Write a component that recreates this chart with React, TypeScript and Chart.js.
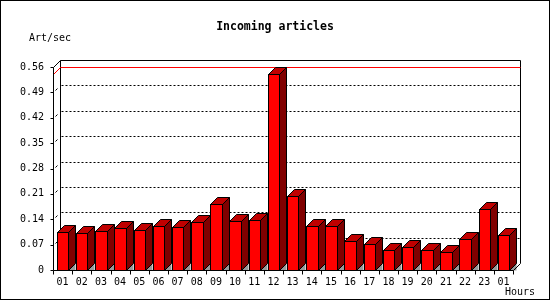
import { useEffect, useRef } from "react";
import { Chart, registerables } from "chart.js";

Chart.register(...registerables);

const chartTitle = "Incoming articles";
const yAxisTitle = "Art/sec";
const xAxisTitle = "Hours";
const hours = ["01", "02", "03", "04", "05", "06", "07", "08", "09", "10", "11", "12", "13", "14", "15", "16", "17", "18", "19", "20", "21", "22", "23", "01"];
const articlesPerSec = [0.104, 0.101, 0.107, 0.115, 0.109, 0.121, 0.118, 0.132, 0.182, 0.134, 0.137, 0.54, 0.203, 0.121, 0.121, 0.079, 0.071, 0.054, 0.063, 0.054, 0.049, 0.085, 0.167, 0.096];
const yTicks = [0, 0.07, 0.14, 0.21, 0.28, 0.35, 0.42, 0.49, 0.56];

const DEPTH = 7;
const FONT = "'DejaVu Sans Mono', 'Liberation Mono', monospace";
const FRONT = "#ff0000";
const TOP = "#c00000";
const SIDE = "#800000";
const SHADOW = "#999999";

const threeD = {
  id: "threeD",
  beforeDatasetsDraw(chart: any) {
    const { ctx, chartArea: a, scales } = chart;
    const ys = scales.y;
    const xs = scales.x;
    const d = DEPTH;
    const L = Math.round(a.left) + 0.5;
    const R = Math.round(a.right) + 0.5;
    const T = Math.round(a.top) + 0.5;
    const B = Math.round(a.bottom) + 0.5;
    ctx.save();
    ctx.lineWidth = 1;
    ctx.strokeStyle = "#000";
    // dotted grid on back plane + marks on left wall
    yTicks.slice(1, -1).forEach((v) => {
      const py = Math.round(ys.getPixelForValue(v)) + 0.5;
      ctx.setLineDash([2, 2]);
      ctx.beginPath();
      ctx.moveTo(L + d + 1, py - d);
      ctx.lineTo(R + d, py - d);
      ctx.stroke();
      ctx.setLineDash([]);
      ctx.beginPath();
      ctx.moveTo(L + 2, py - 2);
      ctx.lineTo(L + 4, py - 4);
      ctx.stroke();
    });
    // back plane frame
    ctx.beginPath();
    ctx.moveTo(L + d, B - d);
    ctx.lineTo(L + d, T - d);
    ctx.lineTo(R + d, T - d);
    ctx.lineTo(R + d, B - d);
    ctx.stroke();
    // max line (red)
    const maxV = Math.max(...articlesPerSec);
    const my = Math.round(ys.getPixelForValue(maxV)) + 0.5;
    ctx.strokeStyle = "#ff0000";
    ctx.beginPath();
    ctx.moveTo(L, my);
    ctx.lineTo(L + d, my - d);
    ctx.lineTo(R + d, my - d);
    ctx.stroke();
    ctx.restore();
  },
  afterDatasetsDraw(chart: any) {
    const { ctx, chartArea: a, scales } = chart;
    const xs = scales.x;
    const d = DEPTH;
    const meta = chart.getDatasetMeta(0);
    ctx.save();
    ctx.lineWidth = 1;
    ctx.strokeStyle = "#000";
    meta.data.forEach((el: any) => {
      const p = el.getProps(["x", "y", "width", "base"], true);
      const l = Math.round(p.x - p.width / 2) + 0.5;
      const r = Math.round(p.x + p.width / 2) + 0.5;
      const t = Math.round(p.y) + 0.5;
      const b = Math.round(p.base) + 0.5;
      // shadow triangle on the floor
      ctx.fillStyle = SHADOW;
      ctx.beginPath();
      ctx.moveTo(r, b);
      ctx.lineTo(r + d, b - d);
      ctx.lineTo(r + d, b);
      ctx.closePath();
      ctx.fill();
      // side
      ctx.fillStyle = SIDE;
      ctx.beginPath();
      ctx.moveTo(r, t);
      ctx.lineTo(r + d, t - d);
      ctx.lineTo(r + d, b - d);
      ctx.lineTo(r, b);
      ctx.closePath();
      ctx.fill();
      ctx.stroke();
      // top
      ctx.fillStyle = TOP;
      ctx.beginPath();
      ctx.moveTo(l, t);
      ctx.lineTo(l + d, t - d);
      ctx.lineTo(r + d, t - d);
      ctx.lineTo(r, t);
      ctx.closePath();
      ctx.fill();
      ctx.stroke();
      // front
      ctx.fillStyle = FRONT;
      ctx.fillRect(l, t, r - l, b - t);
      ctx.strokeRect(l, t, r - l, b - t);
    });
    // front axes
    const L = Math.round(a.left) + 0.5;
    const R = Math.round(a.right) + 0.5;
    const T = Math.round(a.top) + 0.5;
    const B = Math.round(a.bottom) + 0.5;
    ctx.beginPath();
    ctx.moveTo(L + d, T - d);
    ctx.lineTo(L, T);
    ctx.lineTo(L, B);
    ctx.lineTo(R, B);
    ctx.lineTo(R + d, B - d);
    ctx.stroke();
    // y ticks
    const ys = scales.y;
    yTicks.forEach((v) => {
      const py = Math.round(ys.getPixelForValue(v)) + 0.5;
      ctx.beginPath();
      ctx.moveTo(L - 3, py);
      ctx.lineTo(L, py);
      ctx.stroke();
    });
    // x ticks at category boundaries
    const cw = (a.right - a.left) / hours.length;
    for (let i = 0; i <= hours.length; i++) {
      const px = Math.round(xs.getPixelForValue(0) - cw / 2 + i * cw) + 0.5;
      ctx.beginPath();
      ctx.moveTo(px, B);
      ctx.lineTo(px, B + 4);
      ctx.stroke();
    }
    ctx.restore();
  },
  afterDraw(chart: any) {
    const { ctx, width, height } = chart;
    ctx.save();
    ctx.fillStyle = "#000";
    ctx.textBaseline = "middle";
    ctx.font = `bold 11.5px ${FONT}`;
    ctx.textAlign = "center";
    ctx.fillText(chartTitle, width / 2, 27);
    ctx.font = `10px ${FONT}`;
    ctx.textAlign = "left";
    ctx.fillText(yAxisTitle, 29, 38);
    ctx.fillText(xAxisTitle, 505, 292);
    ctx.strokeStyle = "#000";
    ctx.lineWidth = 1;
    ctx.strokeRect(0.5, 0.5, width - 1, height - 1);
    ctx.restore();
  },
};

export default function App() {
  const ref = useRef<HTMLCanvasElement | null>(null);
  useEffect(() => {
    document.body.style.margin = "0";
    const canvas = ref.current;
    if (!canvas) return;
    const chart = new Chart(canvas, {
      type: "bar",
      data: {
        labels: hours,
        datasets: [
          {
            data: articlesPerSec,
            backgroundColor: "rgba(0,0,0,0)",
            borderWidth: 0,
            barPercentage: 0.6,
            categoryPercentage: 1,
          },
        ],
      },
      options: {
        responsive: false,
        animation: false,
        events: [],
        layout: { padding: { top: 67, right: 37, left: 0, bottom: 0 } },
        plugins: { legend: { display: false }, title: { display: false }, tooltip: { enabled: false } },
        scales: {
          x: {
            offset: true,
            grid: { display: false, drawTicks: false },
            border: { display: false },
            ticks: { color: "#000", font: { family: FONT, size: 10 }, padding: 6, maxRotation: 0, autoSkip: false },
            afterFit: (s: any) => {
              s.height = 30;
            },
          },
          y: {
            min: 0,
            max: 0.56,
            grid: { display: false, drawTicks: false },
            border: { display: false },
            afterBuildTicks: (s: any) => {
              s.ticks = yTicks.map((v) => ({ value: v }));
            },
            ticks: {
              color: "#000",
              font: { family: FONT, size: 10 },
              padding: 9,
              callback: (v: any) => (Number(v) === 0 ? "0" : Number(v).toFixed(2)),
            },
            afterFit: (s: any) => {
              s.width = 53;
            },
          },
        },
      },
      plugins: [threeD],
    });
    return () => chart.destroy();
  }, []);
  return (
    <div style={{ width: 550, height: 300 }}>
      <canvas ref={ref} width={550} height={300} style={{ display: "block" }} />
    </div>
  );
}
